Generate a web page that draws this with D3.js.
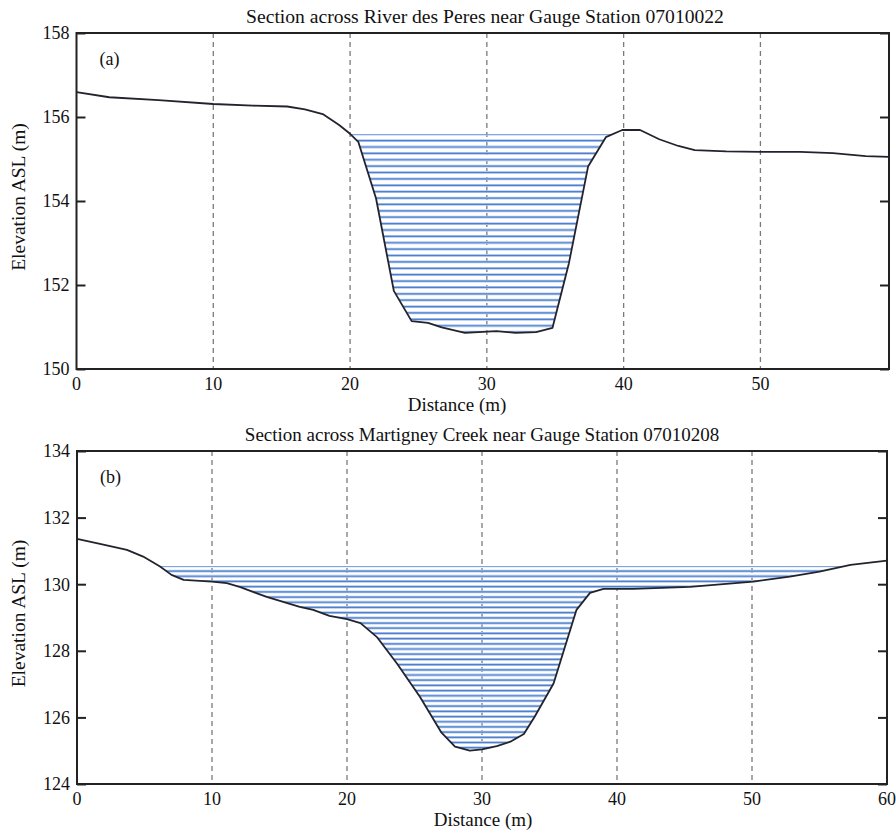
<!DOCTYPE html>
<html>
<head>
<meta charset="utf-8">
<script src="https://cdn.jsdelivr.net/npm/d3@7"></script>
<style>
  html, body { margin: 0; padding: 0; background: #fff; }
  svg { display: block; }
  text { font-family: "Liberation Serif", "Times New Roman", Times, serif; fill: #111; }
</style>
</head>
<body>
<svg id="chart" width="896" height="839" font-family="Liberation Serif, Times New Roman, serif"></svg>
<script>
// ---------- DATA ----------
const titleA = "Section across River des Peres near Gauge Station 07010022";
const titleB = "Section across Martigney Creek near Gauge Station 07010208";
const panelLabels = ["(a)", "(b)"];
const xLabel = "Distance (m)";
const yLabel = "Elevation ASL (m)";

// Panel (a): River des Peres cross-section
const distA = [0, 2.4, 6, 10, 12.9, 15.4, 16.7, 18, 19.2, 20.0, 20.6, 21.9, 23.2, 24.5, 25.7, 26.7, 28.4, 30.7, 32.1, 33.6, 34.8, 36.0, 37.4, 38.7, 39.9, 41.2, 42.6, 44.0, 45.2, 47.5, 50, 52.9, 55.3, 57.7, 59.4];
const elevA = [156.59, 156.47, 156.4, 156.31, 156.27, 156.25, 156.18, 156.07, 155.81, 155.6, 155.41, 154.06, 151.86, 151.14, 151.1, 150.99, 150.86, 150.9, 150.86, 150.88, 150.98, 152.52, 154.82, 155.52, 155.69, 155.69, 155.47, 155.31, 155.21, 155.18, 155.17, 155.17, 155.14, 155.07, 155.05];
const waterA = 155.59;
const xTicksA = [0, 10, 20, 30, 40, 50];
const yTicksA = [150, 152, 154, 156, 158];

// Panel (b): Martigney Creek cross-section
const distB = [0, 1.7, 3.7, 4.9, 6.15, 7.0, 7.9, 10.0, 11.1, 12.1, 14.05, 16.5, 17.5, 18.7, 20.0, 21.0, 22.2, 23.7, 25.4, 27.0, 28.0, 29.1, 30.0, 31.1, 32.1, 33.1, 33.9, 35.3, 37.0, 38.0, 39.0, 41.2, 45.4, 50.1, 52.8, 55.0, 57.3, 60];
const elevB = [131.36, 131.21, 131.03, 130.83, 130.53, 130.28, 130.13, 130.08, 130.03, 129.91, 129.62, 129.32, 129.23, 129.05, 128.95, 128.83, 128.42, 127.62, 126.62, 125.54, 125.12, 125.0, 125.04, 125.14, 125.27, 125.5, 126.02, 127.02, 129.23, 129.74, 129.86, 129.86, 129.92, 130.08, 130.23, 130.38, 130.58, 130.71];
const waterB = 130.55;
const xTicksB = [0, 10, 20, 30, 40, 50, 60];
const yTicksB = [124, 126, 128, 130, 132, 134];
const gridX = [10, 20, 30, 40, 50];

// ---------- DRAW ----------
const svg = d3.select("#chart");
const defs = svg.append("defs");

// region below water level that contains the channel's lowest point
function channelPolygon(xs, ys, w) {
  const iMin = d3.minIndex(ys);
  let l = iMin, r = iMin;
  while (l > 0 && ys[l - 1] < w) l--;
  while (r < ys.length - 1 && ys[r + 1] < w) r++;
  const pts = [];
  if (l > 0) {
    const t = (w - ys[l - 1]) / (ys[l] - ys[l - 1]);
    pts.push([xs[l - 1] + t * (xs[l] - xs[l - 1]), w]);
  } else pts.push([xs[0], w]);
  for (let i = l; i <= r; i++) pts.push([xs[i], ys[i]]);
  if (r < ys.length - 1) {
    const t = (w - ys[r]) / (ys[r + 1] - ys[r]);
    pts.push([xs[r] + t * (xs[r + 1] - xs[r]), w]);
  } else pts.push([xs[ys.length - 1], w]);
  return pts;
}

function panel(cfg) {
  const x = d3.scaleLinear().domain(cfg.xDomain).range([cfg.left, cfg.right]);
  const y = d3.scaleLinear().domain(cfg.yDomain).range([cfg.bottom, cfg.top]);
  const g = svg.append("g");

  // grid
  g.selectAll(".grid").data(cfg.grid).enter().append("line")
    .attr("x1", d => x(d)).attr("x2", d => x(d))
    .attr("y1", cfg.top).attr("y2", cfg.bottom)
    .attr("stroke", "#7a7a7a").attr("stroke-width", 1.3)
    .attr("stroke-dasharray", "5,4");

  // hatch clip
  const clipId = "clip-" + cfg.id;
  const poly = channelPolygon(cfg.xs, cfg.ys, cfg.water);
  defs.append("clipPath").attr("id", clipId)
    .append("polygon").attr("points", poly.map(p => x(p[0]) + "," + y(p[1])).join(" "));
  const levels = d3.range(cfg.water, d3.min(cfg.ys), -cfg.hatchStep);
  const hg = g.append("g").attr("clip-path", "url(#" + clipId + ")");
  hg.selectAll(".h1").data(levels).enter().append("line")
    .attr("x1", cfg.left).attr("x2", cfg.right)
    .attr("y1", d => y(d)).attr("y2", d => y(d))
    .attr("stroke", "#b3c9ee").attr("stroke-width", 2.8);
  hg.selectAll(".h2").data(levels).enter().append("line")
    .attr("x1", cfg.left).attr("x2", cfg.right)
    .attr("y1", d => y(d)).attr("y2", d => y(d))
    .attr("stroke", "#4f80cb").attr("stroke-width", 1.2);

  // ground profile
  const line = d3.line().x((d, i) => x(cfg.xs[i])).y(d => y(d));
  g.append("path").attr("d", line(cfg.ys))
    .attr("fill", "none").attr("stroke", "#23232e").attr("stroke-width", 1.8)
    .attr("stroke-linejoin", "round");

  // inward ticks left/right
  const ya = d3.axisRight(y).tickValues(cfg.yTicks).tickSize(9).tickFormat("");
  const yb = d3.axisLeft(y).tickValues(cfg.yTicks).tickSize(9).tickFormat("");
  g.append("g").attr("transform", `translate(${cfg.left},0)`).call(ya)
    .call(s => { s.select(".domain").remove(); s.selectAll("line").attr("stroke", "#222").attr("stroke-width", 2); });
  g.append("g").attr("transform", `translate(${cfg.right},0)`).call(yb)
    .call(s => { s.select(".domain").remove(); s.selectAll("line").attr("stroke", "#222").attr("stroke-width", 2); });

  // frame
  g.append("rect").attr("x", cfg.left).attr("y", cfg.top)
    .attr("width", cfg.right - cfg.left).attr("height", cfg.bottom - cfg.top)
    .attr("fill", "none").attr("stroke", "#222").attr("stroke-width", 2);

  // tick labels
  g.selectAll(".yl").data(cfg.yTicks).enter().append("text")
    .attr("x", cfg.left - 7).attr("y", d => y(d)).attr("dy", "0.35em")
    .attr("text-anchor", "end").attr("font-size", 18).text(d => d);
  g.selectAll(".xl").data(cfg.xTicks).enter().append("text")
    .attr("x", d => x(d)).attr("y", cfg.bottom + 21)
    .attr("text-anchor", "middle").attr("font-size", 18).text(d => d);

  // labels
  g.append("text").attr("x", cfg.titleX).attr("y", cfg.top - 10)
    .attr("text-anchor", "middle").attr("font-size", cfg.titleSize).text(cfg.title);
  g.append("text").attr("x", cfg.xLabelX).attr("y", cfg.bottom + 42)
    .attr("text-anchor", "middle").attr("font-size", 19).text(xLabel);
  g.append("text").attr("transform", `translate(25,${(cfg.top + cfg.bottom) / 2 - 4}) rotate(-90)`)
    .attr("text-anchor", "middle").attr("font-size", 19.5).text(yLabel);
  g.append("text").attr("x", cfg.left + 23).attr("y", cfg.top + 32)
    .attr("font-size", 18).text(cfg.label);
}

panel({
  id: "a", xs: distA, ys: elevA, water: waterA, hatchStep: 0.152,
  xDomain: [0, 59.4], yDomain: [150, 158],
  left: 76.5, right: 889, top: 33, bottom: 369,
  xTicks: xTicksA, yTicks: yTicksA, grid: gridX,
  title: titleA, titleX: 485, titleSize: 19.6, xLabelX: 457, label: panelLabels[0]
});
panel({
  id: "b", xs: distB, ys: elevB, water: waterB, hatchStep: 0.156,
  xDomain: [0, 60], yDomain: [124, 134],
  left: 77, right: 887, top: 451, bottom: 784,
  xTicks: xTicksB, yTicks: yTicksB, grid: gridX,
  title: titleB, titleX: 482, titleSize: 19, xLabelX: 483, label: panelLabels[1]
});
</script>
</body>
</html>
